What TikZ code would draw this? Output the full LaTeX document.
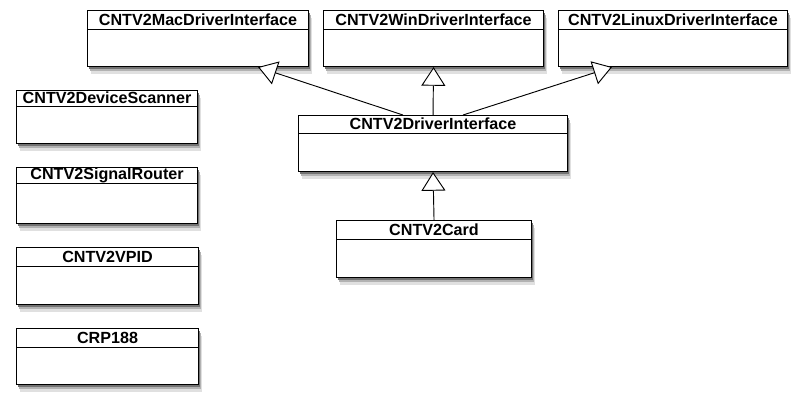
\documentclass[tikz,border=0pt]{standalone}
\usepackage{fontspec}
\setmainfont{Liberation Sans}
\usetikzlibrary{arrows.meta,calc,shadows}
\tikzset{
  cls/.style={draw=black, line width=0.8pt, fill=white, inner sep=0pt,
    drop shadow={fill=black!12, shadow xshift=2.5pt, shadow yshift=-5.5pt, opacity=1},
    drop shadow={fill=black!30, shadow xshift=2pt, shadow yshift=-3.5pt, opacity=1},
    drop shadow={fill=black!55, shadow xshift=1.2pt, shadow yshift=-1.8pt, opacity=1}},
  ttl/.style={font=\fontsize{12.1}{14}\selectfont\bfseries, inner sep=0pt},
  hdr/.style={line width=0.6pt},
  gen/.style={line width=0.7pt, -{Triangle[open, width=18pt, length=14pt, fill=white]}}
}
\newcommand{\umlcls}[7]{% name, x, y, w, h, header height, title
  \node[cls, minimum width=#4*0.75pt, minimum height=#5*0.75pt, anchor=north west] (#1) at (#2,#3) {};
  \node[ttl] (#1-t) at ($(#1.north)+(0,#6/2)$) {#7};
  \draw[hdr] ($(#1.north west)+(0,#6)$) -- ($(#1.north east)+(0,#6)$);
}
\begin{document}
\begin{tikzpicture}[x=0.75pt, y=-0.75pt]
\useasboundingbox (0,0) rectangle (800,404);
\umlcls{mac}{87}{10}{221}{56}{19}{CNTV2MacDriverInterface}
\umlcls{win}{323}{10}{220}{56}{19}{CNTV2WinDriverInterface}
\umlcls{lin}{558}{10}{229}{56}{19}{CNTV2LinuxDriverInterface}
\umlcls{dri}{298}{115}{269}{56}{18}{CNTV2DriverInterface}
\umlcls{card}{336}{220}{195}{57}{19}{CNTV2Card}
\umlcls{scan}{16}{90}{181}{53}{16}{CNTV2DeviceScanner}
\umlcls{rout}{16}{167}{181}{56}{16}{CNTV2SignalRouter}
\umlcls{vpid}{16}{247}{182}{57}{19}{CNTV2VPID}
\umlcls{crp}{16}{328}{182}{56}{19}{CRP188}
\coordinate (d1) at ($(dri.north west)+(105,0)$);
\coordinate (d3) at ($(dri.north west)+(165,0)$);
\coordinate (m1) at ($(mac.south west)+(171,0)$);
\coordinate (l1) at ($(lin.south west)+(54,0)$);
\draw[gen] (d1) -- (m1);
\draw[gen] (dri.north) -- (win.south);
\draw[gen] (d3) -- (l1);
\draw[gen] (card.north) -- (dri.south);
\end{tikzpicture}
\end{document}
